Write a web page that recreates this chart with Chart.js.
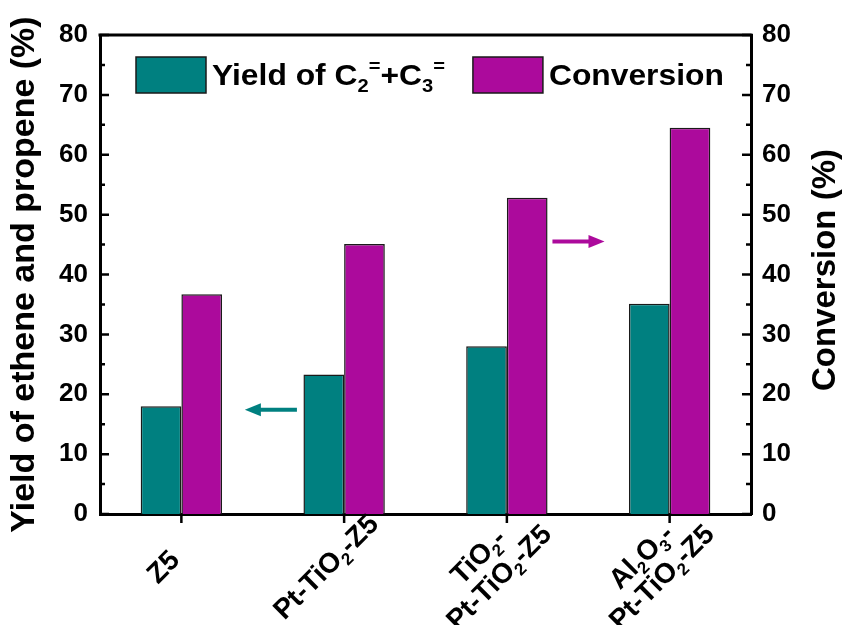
<!DOCTYPE html>
<html>
<head>
<meta charset="utf-8">
<script src="https://cdn.jsdelivr.net/npm/chart.js@4.4.1/dist/chart.umd.min.js"></script>
<style>
  html, body { margin: 0; padding: 0; background: #fff; }
  #wrap { width: 846px; height: 625px; }
</style>
</head>
<body>
<div id="wrap"><canvas id="chart" width="846" height="625"></canvas></div>
<script>
// data
const categories = ["Z5", "Pt-TiO₂-Z5", ["TiO₂-", "Pt-TiO₂-Z5"], ["Al₂O₃-", "Pt-TiO₂-Z5"]];
const yieldValues = [18.0, 23.3, 28.0, 35.1];
const conversionValues = [36.7, 45.1, 52.8, 64.5];
const yTicks = [0, 10, 20, 30, 40, 50, 60, 70, 80];

const TEAL = "#008080";
const MAGENTA = "#AC0A9C";
const FONT = "'Liberation Sans', Arial, sans-serif";

// text with real sub/superscripts: ₀-₉ drawn as subscript digits, ⁼ as superscript "="
const SUBS = "₀₁₂₃₄₅₆₇₈₉";
function segments(text) {
  const out = [];
  for (const ch of text) {
    let kind = "n", c = ch;
    if (SUBS.includes(ch)) { kind = "sub"; c = String(SUBS.indexOf(ch)); }
    else if (ch === "⁼") { kind = "sup"; c = "="; }
    const last = out[out.length - 1];
    if (last && last.kind === kind) last.text += c;
    else out.push({ kind, text: c });
  }
  return out;
}
function richWidth(ctx, text, size) {
  let w = 0;
  for (const s of segments(text)) {
    ctx.font = "bold " + (s.kind === "n" ? size : Math.round(size * 0.62)) + "px " + FONT;
    w += ctx.measureText(s.text).width;
  }
  return w;
}
function drawRich(ctx, text, x, y, size) {
  for (const s of segments(text)) {
    const small = Math.round(size * 0.62);
    ctx.font = "bold " + (s.kind === "n" ? size : small) + "px " + FONT;
    const dy = s.kind === "sub" ? size * 0.22 : s.kind === "sup" ? -size * 0.42 : 0;
    ctx.fillText(s.text, x, y + dy);
    x += ctx.measureText(s.text).width;
  }
  return x;
}

const extras = {
  id: "extras",
  afterDraw(chart) {
    const ctx = chart.ctx;
    const a = chart.chartArea;
    const y = chart.scales.y, y1 = chart.scales.y1, x = chart.scales.x;
    ctx.save();
    ctx.strokeStyle = "#000";
    ctx.lineWidth = 3;
    ctx.beginPath();
    ctx.moveTo(a.left - 1.5, a.top);
    ctx.lineTo(a.right + 1.5, a.top);
    ctx.stroke();

    // inward ticks on both y axes, outward on x
    ctx.lineWidth = 2.5;
    for (let v = 0; v <= 80; v += 5) {
      const len = v % 10 === 0 ? 9 : 5;
      const py = y.getPixelForValue(v);
      ctx.beginPath();
      ctx.moveTo(a.left, py); ctx.lineTo(a.left + len, py);
      const py1 = y1.getPixelForValue(v);
      ctx.moveTo(a.right, py1); ctx.lineTo(a.right - len, py1);
      ctx.stroke();
    }
    categories.forEach((c, i) => {
      const px = x.getPixelForValue(i);
      ctx.beginPath();
      ctx.moveTo(px, a.bottom); ctx.lineTo(px, a.bottom + 9);
      ctx.stroke();
    });

    // rotated category labels, lines centred
    ctx.fillStyle = "#000";
    ctx.textBaseline = "alphabetic";
    ctx.textAlign = "left";
    const size = 28, lh = 29;
    categories.forEach((c, i) => {
      const lines = Array.isArray(c) ? c : [c];
      const px = x.getPixelForValue(i);
      ctx.save();
      ctx.translate(px - 19, a.bottom + 52);
      ctx.rotate(-Math.PI / 4);
      const h = lines.length * lh;
      lines.forEach((ln, k) => {
        const w = richWidth(ctx, ln, size);
        drawRich(ctx, ln, -w / 2, -h / 2 + lh * k + lh / 2 + size * 0.36, size);
      });
      ctx.restore();
    });

    // legend inside the frame
    let lx = 136;
    chart.data.datasets.forEach((ds, i) => {
      ctx.fillStyle = ds.backgroundColor;
      ctx.fillRect(lx, 57, 70, 36);
      ctx.strokeStyle = "#1a1a1a";
      ctx.lineWidth = 1.5;
      ctx.strokeRect(lx, 57, 70, 36);
      ctx.fillStyle = "#000";
      const tx = lx + 76;
      ctx.save();
      ctx.translate(tx, 85);
      ctx.scale(1.06, 1);
      const w = drawRich(ctx, ds.label, 0, 0, 30);
      ctx.restore();
      lx = tx + w * 1.06 + 28;
    });

    // arrows pointing at the axis each series belongs to
    function arrow(x0, x1, py, color) {
      const dir = Math.sign(x1 - x0);
      ctx.strokeStyle = color;
      ctx.fillStyle = color;
      ctx.lineWidth = 4;
      ctx.beginPath();
      ctx.moveTo(x0, py); ctx.lineTo(x1 - dir * 12, py);
      ctx.stroke();
      ctx.beginPath();
      ctx.moveTo(x1, py);
      ctx.lineTo(x1 - dir * 16, py - 6.5);
      ctx.lineTo(x1 - dir * 16, py + 6.5);
      ctx.closePath();
      ctx.fill();
    }
    const step = x.getPixelForValue(1) - x.getPixelForValue(0);
    arrow(x.getPixelForValue(0) + 0.71 * step, x.getPixelForValue(0) + 0.39 * step, y.getPixelForValue(17.4), TEAL);
    arrow(x.getPixelForValue(2) + 0.28 * step, x.getPixelForValue(2) + 0.60 * step, y1.getPixelForValue(45.5), MAGENTA);

    ctx.fillStyle = "#000";
    ctx.font = "bold 33px " + FONT;
    ctx.textAlign = "center";
    ctx.textBaseline = "middle";
    ctx.translate(826, 270);
    ctx.rotate(-Math.PI / 2);
    ctx.fillText("Conversion (%)", 0, 0);
    ctx.restore();
  }
};

const ctx = document.getElementById("chart");
new Chart(ctx, {
  type: "bar",
  data: {
    labels: categories,
    datasets: [
      {
        label: "Yield of C₂⁼+C₃⁼",
        data: yieldValues,
        yAxisID: "y",
        backgroundColor: TEAL,
        borderColor: "#1a1a1a",
        borderWidth: 1.5
      },
      {
        label: "Conversion",
        data: conversionValues,
        yAxisID: "y1",
        backgroundColor: MAGENTA,
        borderColor: "#1a1a1a",
        borderWidth: 1.5
      }
    ]
  },
  options: {
    responsive: false,
    animation: false,
    devicePixelRatio: 1,
    categoryPercentage: 0.5,
    barPercentage: 1.0,
    layout: { padding: { top: 35, left: 0, right: 0, bottom: 0 } },
    plugins: {
      tooltip: { enabled: false },
      legend: { display: false }
    },
    scales: {
      x: {
        grid: { display: false, drawTicks: false },
        border: { display: true, color: "#000", width: 3 },
        ticks: { display: false },
        afterFit(s) { s.height = 111; }
      },
      y: {
        position: "left",
        min: 0,
        max: 80,
        afterBuildTicks(s) { s.ticks = yTicks.map(v => ({ value: v })); },
        grid: { display: false, drawTicks: false },
        border: { display: true, color: "#000", width: 3 },
        ticks: {
          color: "#000",
          padding: 12,
          font: { family: FONT, size: 26, weight: "bold" }
        },
        title: {
          display: true,
          text: "Yield of ethene and propene (%)",
          color: "#000",
          padding: { top: 4, bottom: 2 },
          font: { family: FONT, size: 34, weight: "bold" }
        },
        afterFit(s) { s.width = 100; }
      },
      y1: {
        position: "right",
        min: 0,
        max: 80,
        afterBuildTicks(s) { s.ticks = yTicks.map(v => ({ value: v })); },
        grid: { display: false, drawTicks: false },
        border: { display: true, color: "#000", width: 3 },
        ticks: {
          color: "#000",
          padding: 11,
          font: { family: FONT, size: 26, weight: "bold" }
        },
        afterFit(s) { s.width = 95; }
      }
    }
  },
  plugins: [extras]
});
</script>
</body>
</html>
